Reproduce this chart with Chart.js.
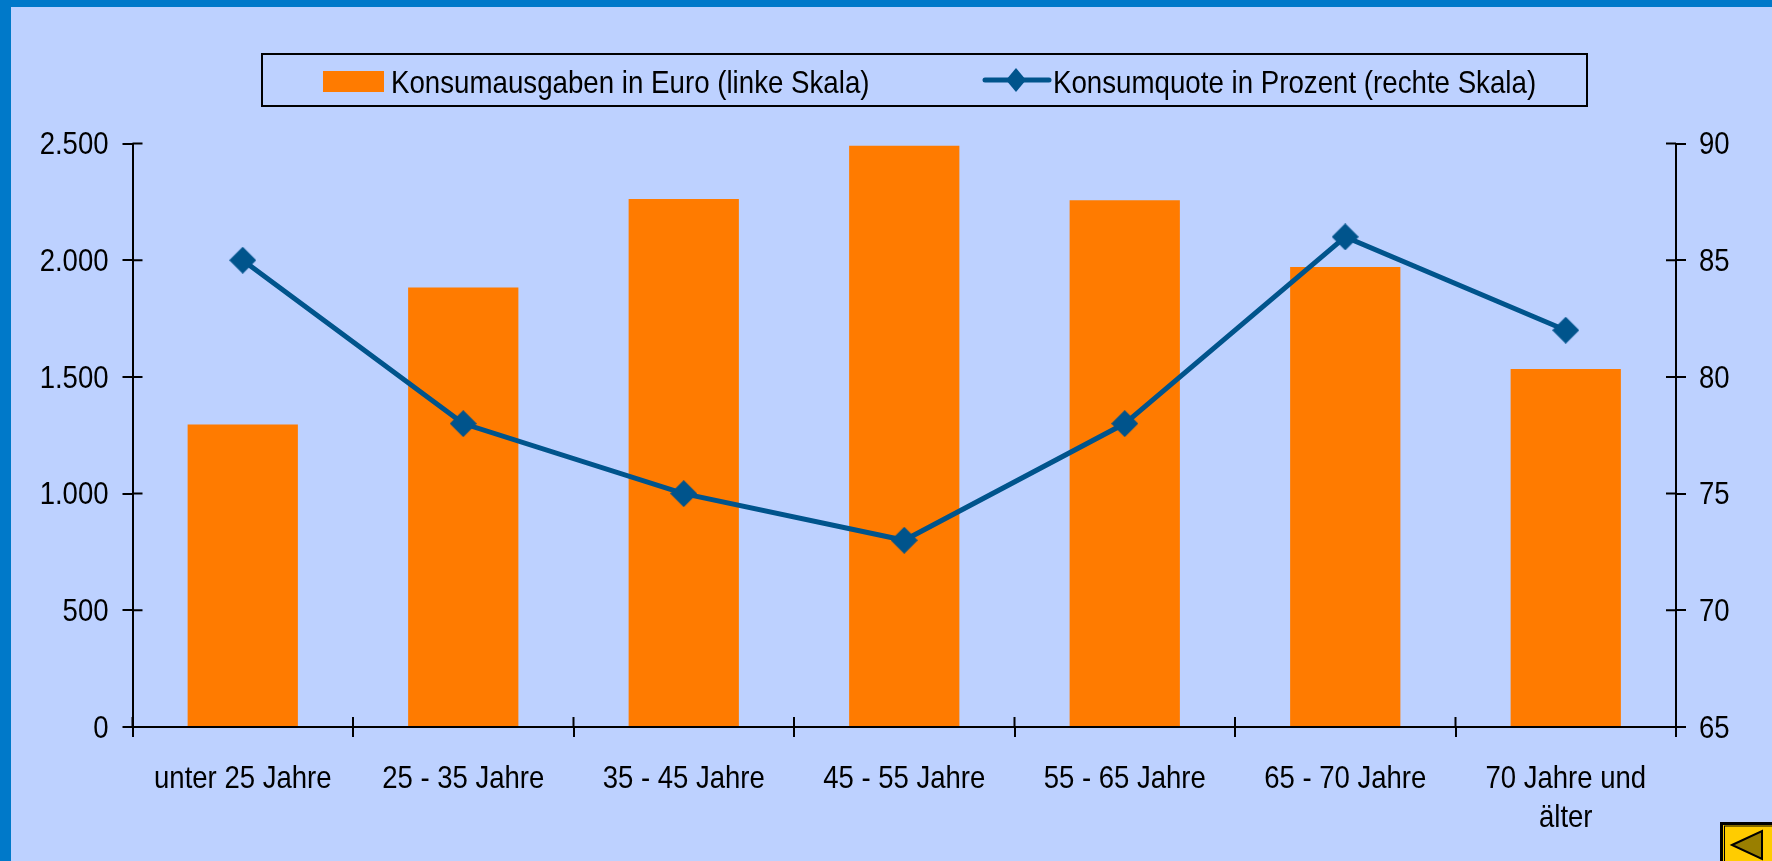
<!DOCTYPE html>
<html>
<head>
<meta charset="utf-8">
<script src="https://cdn.jsdelivr.net/npm/chart.js@4"></script>
<style>
html, body { margin: 0; height: 100%; background: #bdd1ff; overflow: hidden; }
#frame { position: absolute; left: 0; top: 0; width: 1772px; height: 861px; box-sizing: border-box; border-left: 11px solid #0079c9; border-top: 7px solid #0079c9; }
#chart { position: absolute; left: 0; top: 0; }
#legend { position: absolute; left: 261px; top: 53px; width: 1327px; height: 54px; border: 2px solid #000; box-sizing: border-box; font: 32px "Liberation Sans", sans-serif; color: #000; }
#legend span { position: absolute; top: 9px; white-space: nowrap; transform: scaleX(0.865); transform-origin: left center; }
#swatch { position: absolute; left: 60px; top: 16px; width: 61px; height: 21px; background: #ff7b00; }
#lineKey { position: absolute; left: 719px; top: 8px; }
#back { position: absolute; left: 1720px; top: 822px; }
</style>
</head>
<body>
<div id="frame"></div>
<canvas id="chart" width="1772" height="861"></canvas>
<div id="legend">
  <div id="swatch"></div><span id="barText" style="left:128px"></span>
  <svg id="lineKey" width="70" height="34"><line x1="3" y1="17" x2="67" y2="17" stroke="#00548c" stroke-width="5" stroke-linecap="round"/><polygon points="34,5 44,17 34,29 24,17" fill="#00548c"/></svg>
  <span id="lineText" style="left:790px"></span>
</div>
<svg id="back" width="52" height="39">
  <rect x="1.5" y="1.5" width="52" height="39" fill="#ffcc00" stroke="#000" stroke-width="3"/>
  <rect x="4.5" y="4" width="50" height="37" fill="none" stroke="#000" stroke-width="1"/>
  <polygon points="12,23 42,9 42,37" fill="#997f00" stroke="#000" stroke-width="2"/>
</svg>
<script>
const categories = ['unter 25 Jahre', '25 - 35 Jahre', '35 - 45 Jahre', '45 - 55 Jahre', '55 - 65 Jahre', '65 - 70 Jahre', ['70 Jahre und', 'älter']];
const konsumausgaben = [1296, 1883, 2262, 2490, 2257, 1971, 1534];
const konsumquote = [85, 78, 75, 73, 78, 86, 82];
const labelAusgaben = 'Konsumausgaben in Euro (linke Skala)';
const labelQuote = 'Konsumquote in Prozent (rechte Skala)';

document.getElementById('barText').textContent = labelAusgaben;
document.getElementById('lineText').textContent = labelQuote;

// Raute als Punkt der Linie
function diamond(w, h) {
    const c = document.createElement('canvas');
    c.width = w; c.height = h;
    const g = c.getContext('2d');
    g.fillStyle = '#00548c';
    g.beginPath();
    g.moveTo(w / 2, 0); g.lineTo(w, h / 2); g.lineTo(w / 2, h); g.lineTo(0, h / 2);
    g.closePath();
    g.fill();
    return c;
}

// Striche gehen in der Vorlage nach beiden Seiten ueber die Achse
const innerTicks = {
    id: 'innerTicks',
    afterDraw(chart) {
        const { ctx, chartArea: a, scales } = chart;
        ctx.save();
        ctx.strokeStyle = '#000';
        ctx.lineWidth = 2;
        ctx.beginPath();
        scales.y.ticks.forEach(t => {
            const py = scales.y.getPixelForValue(t.value);
            ctx.moveTo(a.left, py); ctx.lineTo(a.left + 10, py);
        });
        scales.y1.ticks.forEach(t => {
            const py = scales.y1.getPixelForValue(t.value);
            ctx.moveTo(a.right, py); ctx.lineTo(a.right - 10, py);
        });
        const step = a.width / categories.length;
        for (let i = 0; i <= categories.length; i++) {
            ctx.moveTo(a.left + i * step, a.bottom); ctx.lineTo(a.left + i * step, a.bottom - 10);
        }
        ctx.stroke();
        ctx.restore();
    }
};

const ctx = document.getElementById('chart').getContext('2d');

// Schmale Schrift ist nicht installiert, also die Beschriftung horizontal stauchen
const plainFillText = ctx.fillText.bind(ctx);
ctx.fillText = function(text, x, y) {
    ctx.save();
    ctx.translate(x, y + 2);
    ctx.scale(0.86, 1);
    plainFillText(text, 0, 0);
    ctx.restore();
};

const tickFont = { family: '"Liberation Sans", sans-serif', size: 32, lineHeight: 1.23 };

new Chart(ctx, {
    data: {
        labels: categories,
        datasets: [
            {
                type: 'line',
                label: labelQuote,
                data: konsumquote,
                yAxisID: 'y1',
                borderColor: '#00548c',
                borderWidth: 5,
                pointStyle: diamond(27, 27),
                tension: 0,
                order: 1
            },
            {
                type: 'bar',
                label: labelAusgaben,
                data: konsumausgaben,
                yAxisID: 'y',
                backgroundColor: '#ff7b00',
                categoryPercentage: 1,
                barPercentage: 0.5,
                order: 2
            }
        ]
    },
    options: {
        responsive: false,
        animation: false,
        layout: { padding: { top: 143.5, left: 0, right: 0, bottom: 0 } },
        plugins: { legend: { display: false }, tooltip: { enabled: false } },
        scales: {
            x: {
                afterFit(s) { s.height = 134; },
                grid: { drawOnChartArea: false, color: '#000', tickLength: 10, lineWidth: 2 },
                border: { color: '#000', width: 2 },
                ticks: { color: '#000', font: tickFont, padding: 20, maxRotation: 0, autoSkip: false }
            },
            y: {
                position: 'left',
                min: 0, max: 2500,
                afterFit(s) { s.width = 132.5; },
                grid: { drawOnChartArea: false, color: '#000', tickLength: 10, lineWidth: 2 },
                border: { color: '#000', width: 2 },
                ticks: { color: '#000', font: tickFont, padding: 14, stepSize: 500, callback: v => v.toLocaleString('de-DE') }
            },
            y1: {
                position: 'right',
                min: 65, max: 90,
                afterFit(s) { s.width = 96; },
                grid: { drawOnChartArea: false, color: '#000', tickLength: 10, lineWidth: 2 },
                border: { color: '#000', width: 2 },
                ticks: { color: '#000', font: tickFont, padding: 13, stepSize: 5 }
            }
        }
    },
    plugins: [innerTicks]
});
</script>
</body>
</html>
